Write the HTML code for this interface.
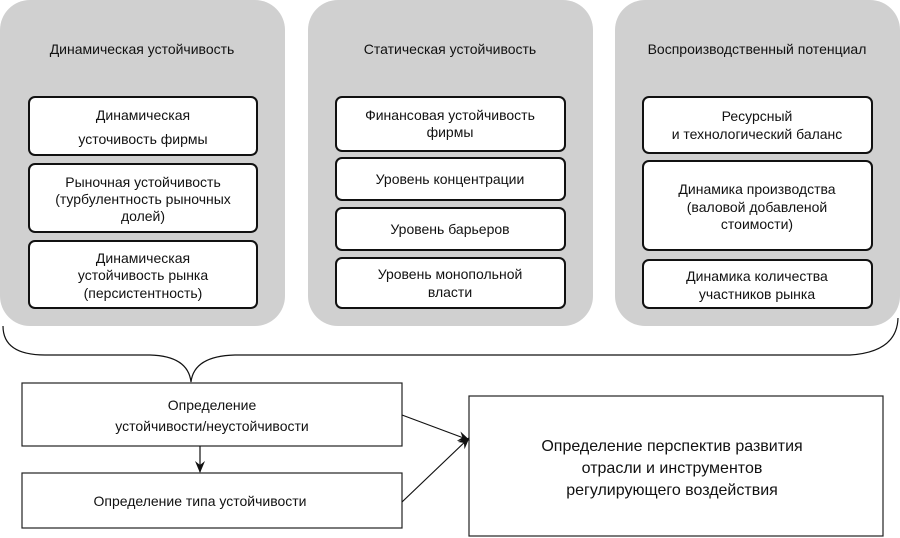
<!DOCTYPE html>
<html><head><meta charset="utf-8"><style>
body{margin:0;background:#fff;}
svg{display:block}
text{font-family:"Liberation Sans",Arial,sans-serif;font-size:14px;fill:#111;text-anchor:middle}
</style></head><body>
<svg width="900" height="538" viewBox="0 0 900 538" xmlns="http://www.w3.org/2000/svg">
<defs><marker id="a" markerWidth="12" markerHeight="10" refX="11" refY="5" orient="auto" markerUnits="userSpaceOnUse"><path d="M0,0 L12,5 L0,10 L4,5 Z" fill="#111"/></marker></defs>
<g fill="#d0d0d0">
<rect x="0" y="0" width="285" height="326" rx="30"/>
<rect x="308" y="0" width="285" height="326" rx="30"/>
<rect x="615" y="0" width="285" height="326" rx="30"/>
</g>
<text x="142" y="54">Динамическая  устойчивость</text>
<text x="450" y="54">Статическая устойчивость</text>
<text x="757" y="54">Воспроизводственный  потенциал</text>
<g fill="#fff" stroke="#111" stroke-width="2">
<rect x="29" y="97" width="228" height="58" rx="6"/>
<rect x="29" y="164" width="228" height="68" rx="6"/>
<rect x="29" y="241" width="228" height="67" rx="6"/>
<rect x="336" y="97" width="229" height="54" rx="6"/>
<rect x="336" y="158" width="229" height="42" rx="6"/>
<rect x="336" y="208" width="229" height="42" rx="6"/>
<rect x="336" y="258" width="229" height="50" rx="6"/>
<rect x="643" y="97" width="229" height="56" rx="6"/>
<rect x="643" y="161" width="229" height="89" rx="6"/>
<rect x="643" y="260" width="229" height="48" rx="6"/>
</g>
<text x="143" y="120">Динамическая</text>
<text x="143" y="144">усточивость  фирмы</text>
<text x="143" y="187">Рыночная  устойчивость</text>
<text x="143" y="204">(турбулентность  рыночных</text>
<text x="143" y="221">долей)</text>
<text x="143" y="263">Динамическая</text>
<text x="143" y="280">устойчивость  рынка</text>
<text x="143" y="298">(персистентность)</text>
<text x="450" y="120">Финансовая  устойчивость</text>
<text x="450" y="137">фирмы</text>
<text x="450" y="184">Уровень  концентрации</text>
<text x="450" y="234">Уровень  барьеров</text>
<text x="450" y="279">Уровень  монопольной</text>
<text x="450" y="297">власти</text>
<text x="757" y="121">Ресурсный</text>
<text x="757" y="139">и технологический   баланс</text>
<text x="757" y="194">Динамика  производства</text>
<text x="757" y="212">(валовой  добавленой</text>
<text x="757" y="229">стоимости)</text>
<text x="757" y="281">Динамика  количества</text>
<text x="757" y="299">участников  рынка</text>
<path d="M3,326 Q3,355 45,355 L150,355 Q188,356 191,382 Q194,356 235,355 L850,355 Q897,352 898,318" fill="none" stroke="#111" stroke-width="1.2"/>
<g fill="#fff" stroke="#222" stroke-width="1.2">
<rect x="22" y="383" width="380" height="63"/>
<rect x="22" y="473" width="380" height="55"/>
<rect x="469" y="396" width="414" height="140"/>
</g>
<text x="212" y="410">Определение</text>
<text x="212" y="431">устойчивости/неустойчивости</text>
<text x="200" y="506">Определение типа устойчивости</text>
<text x="672" y="451" style="font-size:16px">Определение перспектив развития</text>
<text x="672" y="473" style="font-size:16px">отрасли и инструментов</text>
<text x="672" y="495" style="font-size:16px">регулирующего воздействия</text>
<g stroke="#111" stroke-width="1.2" fill="none">
<line x1="200" y1="446" x2="200" y2="472" marker-end="url(#a)"/>
<line x1="402" y1="415" x2="469" y2="440" marker-end="url(#a)"/>
<line x1="402" y1="502" x2="469" y2="438" marker-end="url(#a)"/>
</g>
</svg>
</body></html>
